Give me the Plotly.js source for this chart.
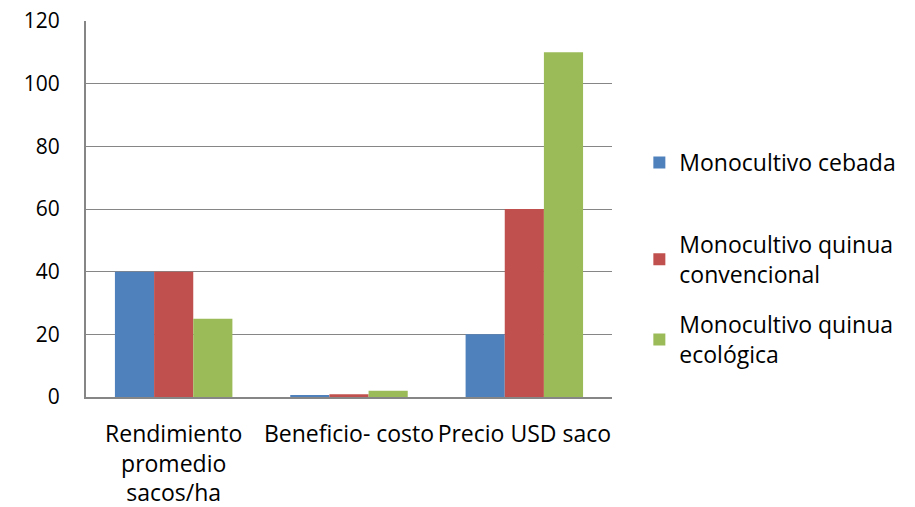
<!DOCTYPE html>
<html>
<head>
<meta charset="utf-8">
<script src="https://cdn.plot.ly/plotly-3.0.1.min.js"></script>
<style>html,body{margin:0;padding:0;background:#fff;}#chart{width:915px;height:507px;}</style>
</head>
<body>
<div id="chart"></div>
<script>
const categories = ["Rendimiento promedio sacos/ha", "Beneficio- costo", "Precio USD saco"];
const tickLabels = ["Rendimiento<br>promedio<br>sacos/ha", "Beneficio- costo", "Precio USD saco"];
const seriesNames = ["Monocultivo cebada", "Monocultivo quinua<br>convencional", "Monocultivo quinua<br>ecológica"];
const cebada = [40, 0.6, 20];
const quinuaConvencional = [40, 0.9, 60];
const quinuaEcologica = [25, 2, 110];
const yTicks = [0, 20, 40, 60, 80, 100, 120];

const colors = ["#4F81BD", "#C0504D", "#9BBB59"];
const allValues = [cebada, quinuaConvencional, quinuaEcologica];
const FONT = "'Open Sans', 'Noto Sans', sans-serif";
const FS = 23;
const legendIds = ["legend", "legend2", "legend3"];
const legendY = [0.681, 0.463, 0.25];

const traces = allValues.map((vals, i) => ({
  type: "bar",
  name: seriesNames[i],
  x: categories,
  y: vals,
  marker: {color: colors[i], line: {width: 0}},
  legend: legendIds[i],
  hoverinfo: "y+name"
}));

const legendStyle = (y) => ({
  x: 1.052, xanchor: "left",
  y: y, yanchor: "top",
  font: {family: FONT, size: FS, color: "#000"},
  bgcolor: "rgba(0,0,0,0)",
  borderwidth: 0
});

const layout = {
  width: 915,
  height: 507,
  margin: {l: 86, r: 303, t: 21, b: 110, pad: 0},
  paper_bgcolor: "#fff",
  plot_bgcolor: "#fff",
  font: {family: FONT, size: FS, color: "#000"},
  barmode: "group",
  bargap: 0.33,
  bargroupgap: 0,
  showlegend: true,
  legend: legendStyle(legendY[0]),
  legend2: legendStyle(legendY[1]),
  legend3: legendStyle(legendY[2]),
  xaxis: {
    type: "category",
    tickvals: categories,
    ticktext: tickLabels,
    showline: true,
    linecolor: "#868686",
    linewidth: 2,
    ticks: "",
    showgrid: false,
    zeroline: false,
    tickfont: {family: FONT, size: FS, color: "#000"},
    ticklabelstandoff: 15
  },
  yaxis: {
    range: [0, 120],
    tickvals: yTicks,
    ticktext: yTicks.map(String),
    showline: true,
    linecolor: "#868686",
    linewidth: 2,
    showgrid: true,
    gridcolor: "#868686",
    gridwidth: 1,
    zeroline: false,
    ticks: "",
    tickfont: {family: FONT, size: 21, color: "#000"},
    ticklabelstandoff: 20
  }
};

Plotly.newPlot("chart", traces, layout, {displayModeBar: false, staticPlot: true});
</script>
</body>
</html>
